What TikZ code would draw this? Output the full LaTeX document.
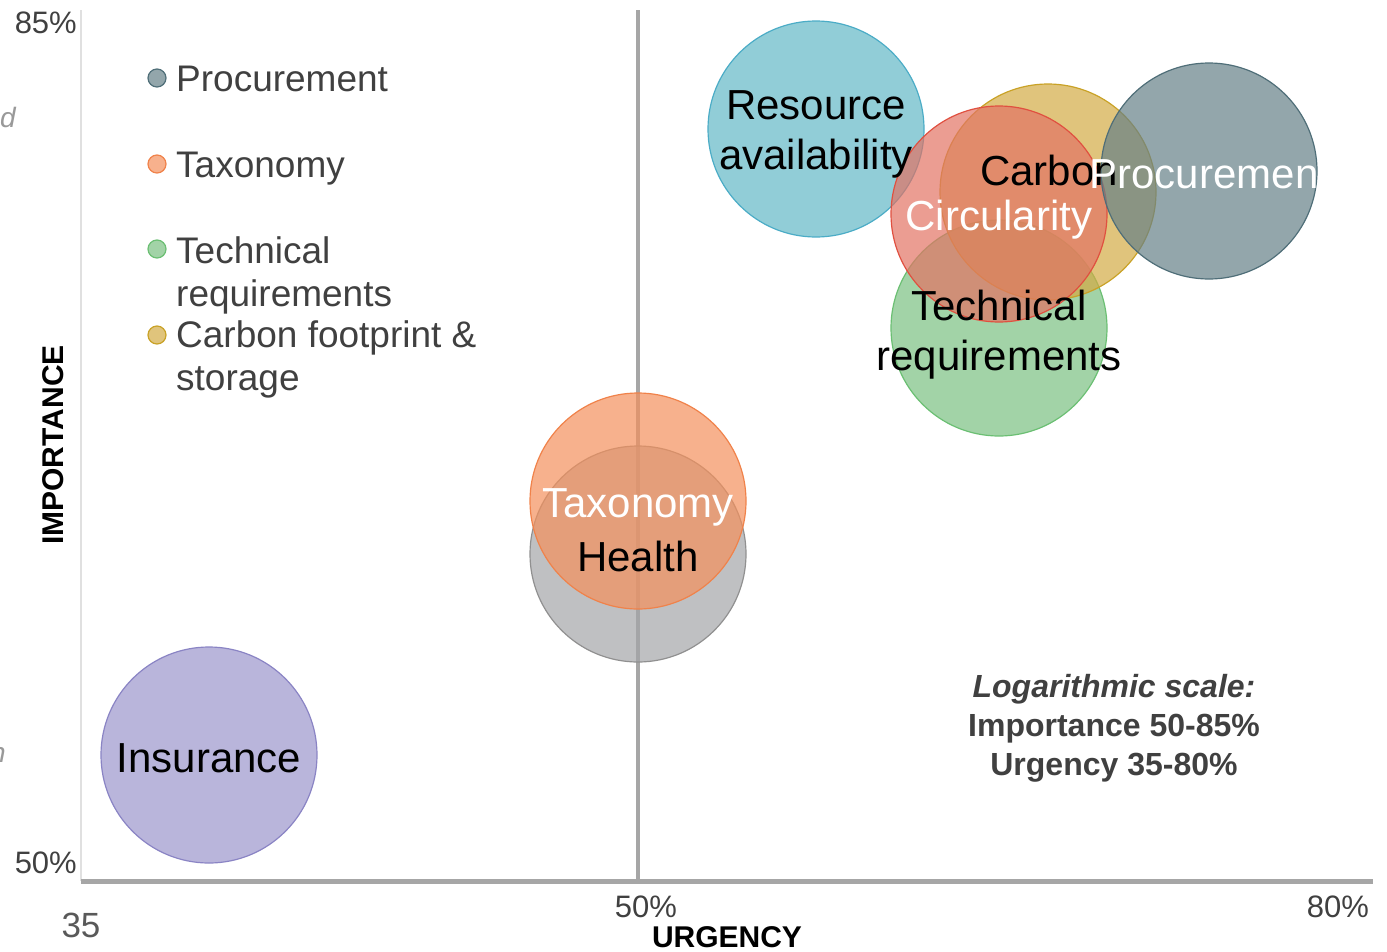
\documentclass[tikz,border=0pt]{standalone}
\usepackage{fontspec}
\setmainfont{Liberation Sans}
\usetikzlibrary{positioning}

\definecolor{txtgray}{HTML}{404040}
\definecolor{axgray}{HTML}{A6A6A6}
\definecolor{resfill}{RGB}{99,184,198}
\definecolor{resline}{HTML}{4BACC6}
\definecolor{carfill}{RGB}{211,171,68}
\definecolor{carline}{HTML}{C9A227}
\definecolor{profill}{RGB}{101,128,135}
\definecolor{proline}{HTML}{4F6E78}
\definecolor{cirfill}{RGB}{226,115,100}
\definecolor{cirline}{HTML}{E05040}
\definecolor{tecfill}{RGB}{122,192,129}
\definecolor{tecline}{HTML}{6BBF73}
\definecolor{taxfill}{RGB}{244,144,92}
\definecolor{taxline}{HTML}{F0824A}
\definecolor{heafill}{RGB}{164,165,168}
\definecolor{healine}{HTML}{909090}
\definecolor{insfill}{RGB}{155,149,204}
\definecolor{insline}{HTML}{8A84C4}

\begin{document}
\begin{tikzpicture}[x=1pt, y=-1pt,
    bubble/.style={circle, minimum size=216pt, inner sep=0pt, fill opacity=0.7, line width=1.2pt},
    bubtxt/.style={font=\fontsize{42}{50}\selectfont, align=center},
    legdot/.style={circle, minimum size=18pt, inner sep=0pt, line width=1.2pt},
    legtxt/.style={font=\fontsize{37}{43}\selectfont, text=txtgray, align=left, anchor=west, inner sep=0pt},
    ticklbl/.style={font=\fontsize{31}{36}\selectfont, text=txtgray, inner sep=0pt},
    axtitle/.style={font=\bfseries\fontsize{30}{36}\selectfont, inner sep=0pt},
    notetxt/.style={font=\bfseries\fontsize{32}{39}\selectfont, text=txtgray, align=center}]
  \useasboundingbox (0,0) rectangle (1387,951);
  \clip (0,0) rectangle (1387,951);

  % axes
  \coordinate (ytop) at (81,10);
  \coordinate (orig) at (81,881);
  \coordinate (xend) at (1373,881);
  \coordinate (mtop) at (638,10);
  \coordinate (mbot) at (638,879);
  \draw[line width=2pt, black!12] (ytop) -- (orig);
  \draw[line width=4pt, axgray] (mtop) -- (mbot);
  \draw[line width=5pt, axgray] (orig) -- (xend);

  % tick labels and titles
  \node[ticklbl, anchor=east] (y85) at (77,23) {85\%};
  \node[ticklbl, anchor=east] (y50) at (77,863) {50\%};
  \node[ticklbl, font=\fontsize{35}{40}\selectfont, text=black!65] (x35) at (81,925) {35};
  \node[ticklbl] (x50) at (646,907) {50\%};
  \node[ticklbl] (x80) at (1338,907) {80\%};
  \node[axtitle] (urg) at (727,937) {URGENCY};
  \node[axtitle, rotate=90] (imp) at (53,445) {IMPORTANCE};
  \node[anchor=east, inner sep=0pt, text=black!40, font=\itshape\fontsize{28}{32}\selectfont] (fragd) at (16,117) {d};
  \node[anchor=east, inner sep=0pt, text=black!40, font=\itshape\fontsize{28}{32}\selectfont] (fragn) at (6,755) {n};

  % bubbles
  \node[bubble, fill=resfill, draw=resline] (res) at (816,129) {};
  \node[bubble, fill=tecfill, draw=tecline] (tec) at (999,328) {};
  \node[bubble, fill=carfill, draw=carline] (car) at (1048,192) {};
  \node[bubble, fill=cirfill, draw=cirline] (cir) at (999,214) {};
  \node[bubble, fill=profill, draw=proline] (pro) at (1209,171) {};
  \node[bubble, fill=heafill, draw=healine] (hea) at (638,554) {};
  \node[bubble, fill=taxfill, draw=taxline] (tax) at (638,501) {};
  \node[bubble, fill=insfill, draw=insline] (ins) at (209,755) {};

  % bubble labels
  \node[bubtxt] at ([yshift=-5]res.center) {Resource\\availability};
  \node[bubtxt, anchor=base] at (1049,185) {Carbon};
  \node[bubtxt, text=white, anchor=base] at (1204,188) {Procuremen};
  \node[bubtxt, text=white, anchor=base] at (999,230) {Circularity};
  \node[bubtxt] at ([yshift=-7]tec.center) {Technical\\requirements};
  \node[bubtxt, text=white, anchor=base] at (638,517) {Taxonomy};
  \node[bubtxt, anchor=base] at (638,571) {Health};
  \node[bubtxt, anchor=base] at (209,772) {Insurance};

  % legend
  \node[legdot, fill=profill!70, draw=proline] (dpro) at (157,78) {};
  \node[legdot, fill=taxfill!70, draw=taxline] (dtax) at (157,164) {};
  \node[legdot, fill=tecfill!70, draw=tecline] (dtec) at (157,249) {};
  \node[legdot, fill=carfill!70, draw=carline] (dcar) at (157,335) {};
  \node[legtxt, anchor=base west] (lpro) at (176,91) {Procurement};
  \node[legtxt, anchor=base west] (ltax) at (176,177) {Taxonomy};
  \node[legtxt] (ltec) at (176,275) {Technical\\requirements};
  \node[legtxt] (lcar) at (176,359) {Carbon footprint \&\\storage};

  % note
  \node[notetxt] (note) at (1114,728) {\textit{Logarithmic scale:}\\Importance 50-85\%\\Urgency 35-80\%};
\end{tikzpicture}
\end{document}
